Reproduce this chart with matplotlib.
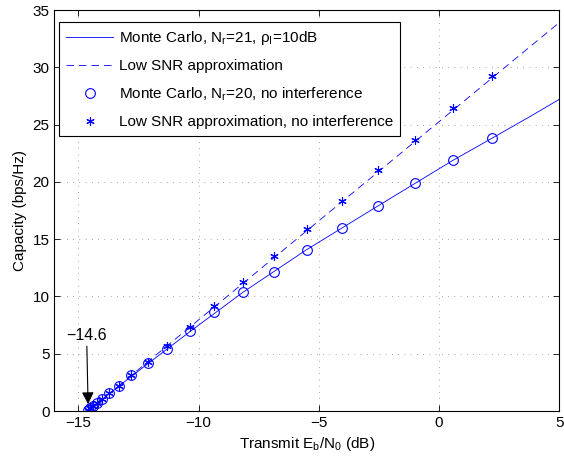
import matplotlib
matplotlib.use('Agg')
import matplotlib.pyplot as plt

plt.rcParams['font.family'] = ['Liberation Sans', 'DejaVu Sans']
plt.rcParams['mathtext.fontset'] = 'custom'
plt.rcParams['mathtext.rm'] = 'Liberation Sans'

# Monte Carlo points (shared Eb/N0 values, dB)
ebno_pts = [2.21, 0.58, -1.0, -2.54, -4.04, -5.51, -6.85, -8.16, -9.35, -10.35,
            -11.3, -12.12, -12.8, -13.33, -13.74, -14.03, -14.24, -14.40, -14.52, -14.6]
cap_no_intf = [23.82, 21.88, 19.9, 17.9, 15.97, 14.08, 12.16, 10.36, 8.61, 6.95,
               5.45, 4.15, 3.1, 2.2, 1.55, 1.05, 0.7, 0.45, 0.25, 0.1]
cap_lowsnr_no_intf = [29.26, 26.41, 23.67, 21.0, 18.35, 15.88, 13.5, 11.3, 9.19, 7.35,
                      5.7, 4.25, 3.15, 2.22, 1.56, 1.05, 0.7, 0.45, 0.25, 0.1]

# curves with interference
mc_x = [-14.6, -14.4, -14.0, -13.3, -12.1, -10.35, -8.16, -5.51, -2.54, 0.58, 2.21, 3.7, 5.0]
mc_y = [0.0, 0.45, 1.05, 2.2, 4.15, 6.95, 10.36, 14.08, 17.9, 21.88, 23.82, 25.6, 27.2]
low_x = [-14.6, 5.0]
low_y = [0.0, 33.9]

fig = plt.figure(figsize=(5.64, 4.58), dpi=100)
ax = fig.add_axes([0.0965, 0.1026, 0.895, 0.8755])

blue = (0, 0, 1)
ax.plot(mc_x, mc_y, '-', color=blue, lw=0.6,
        label='Monte Carlo, N$_\\mathregular{r}$=21, ρ$_\\mathregular{I}$=10dB')
ax.plot(low_x, low_y, color=blue, lw=0.6, dashes=(9, 6),
        label='Low SNR approximation')
ax.plot(ebno_pts, cap_no_intf, 'o', color=blue, mfc='none', ms=7, mew=0.8,
        label='Monte Carlo, N$_\\mathregular{r}$=20, no interference')
ax.plot(ebno_pts, cap_lowsnr_no_intf, marker=(6, 2, 0), ls='none', color=blue, ms=6, mew=0.8,
        label='Low SNR approximation, no interference')

ax.annotate('\u221214.6', xy=(-14.6, 0.6), xytext=(-14.66, 5.9), ha='center', va='bottom',
            fontsize=11.5,
            arrowprops=dict(arrowstyle='-|>', color='k', lw=0.8, shrinkA=0, shrinkB=0,
                            mutation_scale=18))

ax.set_xlim(-16, 5)
ax.set_ylim(0, 35)
ax.set_xticks([-15, -10, -5, 0, 5])
ax.set_yticks(range(0, 36, 5))
ax.set_xticklabels(['\u221215', '\u221210', '\u22125', '0', '5'])
ax.tick_params(direction='in', length=4, width=0.6, top=True, right=True, labelsize=11)
ax.grid(True, color='0.35', linestyle=(0, (1, 8)), lw=0.5)
for s in ax.spines.values():
    s.set_linewidth(0.8)

ax.set_xlabel('Transmit E$_\\mathregular{b}$/N$_\\mathregular{0}$ (dB)', fontsize=11)
ax.set_ylabel('Capacity (bps/Hz)', fontsize=11)

leg = ax.legend(loc='upper left', bbox_to_anchor=(0.009, 0.97), fontsize=11,
                fancybox=False, framealpha=1, edgecolor='k', borderaxespad=0,
                handlelength=3.1, handletextpad=0.35, labelspacing=0.8, borderpad=0.45)
leg.get_frame().set_linewidth(0.8)

fig.savefig('out.png', dpi=100)
